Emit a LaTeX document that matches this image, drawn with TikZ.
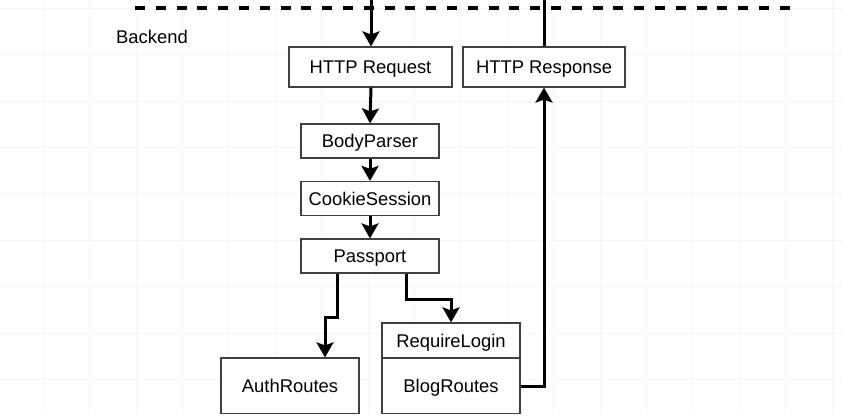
\documentclass[tikz,border=0pt]{standalone}
\usepackage{fontspec}
\setmainfont{Liberation Sans}
\usetikzlibrary{arrows.meta}
\begin{document}
\begin{tikzpicture}[x=1pt,y=-1pt,
    gridline/.style={draw=black!4,line width=0.6pt},
    box/.style={draw=black!75,line width=1.2pt,fill=white,inner sep=0pt,
      text height=13pt,text depth=0pt,font=\fontsize{18.4}{22}\selectfont},
    flow/.style={line width=3pt,-{Stealth[length=15pt,width=17pt,inset=3pt]}},
    plain/.style={line width=3pt}]
  \useasboundingbox (0,0) rectangle (842,415);
  \fill[white] (0,0) rectangle (842,415);
  \clip (0,0) rectangle (842,413.2);
  \foreach \gx in {0,...,17} \draw[gridline] ({43+46.4*\gx},0) -- ++(0,415);
  \foreach \gy in {0,...,8} \draw[gridline] (0,{8+46.4*\gy}) -- ++(842,0);
  \draw[line width=3.3pt,dash pattern=on 10pt off 10.8pt] (135,8) -- (790,8);
  \node[anchor=base west,inner sep=0pt,font=\fontsize{18.4}{22}\selectfont] (backend) at (116,43.5) {Backend};
  \node[box,minimum width=163,minimum height=40] (request) at (370.5,67) {HTTP Request};
  \node[box,minimum width=162,minimum height=40] (response) at (544,67) {HTTP Response};
  \node[box,minimum width=138,minimum height=34] (bodyparser) at (370,141) {BodyParser};
  \node[box,minimum width=138,minimum height=34] (cookiesession) at (370,198.5) {CookieSession};
  \node[box,minimum width=138,minimum height=34] (passport) at (370,256) {Passport};
  \node[box,minimum width=138,minimum height=35] (requirelogin) at (451,340.5) {RequireLogin};
  \node[box,minimum width=138,minimum height=56] (authroutes) at (290,386) {AuthRoutes};
  \node[box,minimum width=138,minimum height=56] (blogroutes) at (451,386) {BlogRoutes};
  \coordinate (inbound) at (371,0);
  \coordinate (outbound) at (544,0);
  \draw[flow] (inbound) -- ([xshift=0.5]request.north);
  \draw[plain] (response.north) -- (outbound);
  \draw[flow] ([xshift=0.5]request.south) -- (bodyparser.north);
  \draw[flow] (bodyparser) -- (cookiesession);
  \draw[flow] (cookiesession) -- (passport);
  \draw[flow] ([xshift=-33]passport.south) -- ++(0,44) -| ([xshift=35]authroutes.north);
  \draw[flow] ([xshift=36]passport.south) -- ++(0,26) -| (requirelogin.north);
  \draw[flow] (blogroutes.east) -| (response.south);
\end{tikzpicture}
\end{document}
